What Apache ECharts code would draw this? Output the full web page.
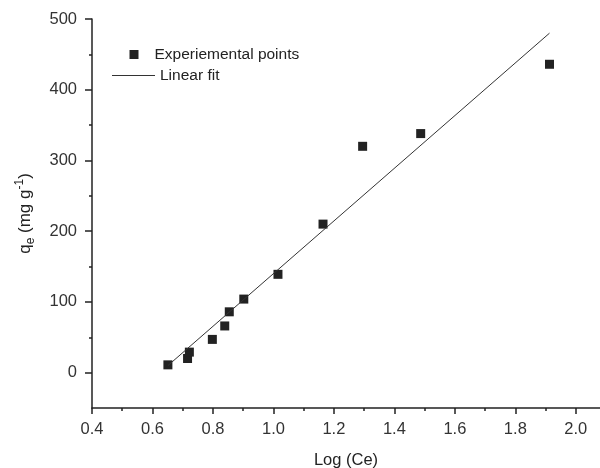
<!DOCTYPE html>
<html><head><meta charset="utf-8">
<script src="https://cdn.jsdelivr.net/npm/echarts@6/dist/echarts.min.js"></script>
<style>html,body{margin:0;padding:0;background:#fff}#c{width:600px;height:468px}</style>
</head><body><div id="c"></div>
<script>
const logCe = [0.651, 0.716, 0.722, 0.798, 0.839, 0.854, 0.902, 1.015, 1.164, 1.295, 1.487, 1.913];
const qe = [11, 20, 29, 47, 66, 86, 104, 139, 210, 320, 338, 436];
const fitX = [0.651, 1.913];
const fitY = [10, 480];
const xTicks = [0.4, 0.6, 0.8, 1.0, 1.2, 1.4, 1.6, 1.8, 2.0];
const xMinor = [0.5, 0.7, 0.9, 1.1, 1.3, 1.5, 1.7, 1.9];
const yTicks = [0, 100, 200, 300, 400, 500];
const yMinor = [50, 150, 250, 350, 450];

const font = 'Liberation Sans, Arial, sans-serif';
const axColor = '#222';
const fs = 16.5;
const chart = echarts.init(document.getElementById('c'));
const xBase = {type:'value', min:0.4, max:2.08, position:'bottom'};
const yBase = {type:'value', min:-50, max:500, position:'left'};
chart.setOption({
  animation:false,
  grid:{left:92, right:0, top:19, bottom:60, outerBoundsMode:'none'},
  xAxis:[
    Object.assign({}, xBase, {
      name:'Log (Ce)', nameLocation:'middle', nameGap:44,
      nameTextStyle:{fontFamily:font, fontSize:fs, color:'#222'},
      axisLine:{show:true, onZero:false, lineStyle:{color:axColor, width:1.5}},
      axisTick:{show:true, length:6, customValues:xTicks, lineStyle:{color:axColor, width:1.5}},
      axisLabel:{customValues:xTicks, margin:13, fontFamily:font, fontSize:fs, color:'#333', formatter:v=>v.toFixed(1)},
      splitLine:{show:false}
    }),
    Object.assign({}, xBase, {
      axisLine:{show:false, onZero:false},
      axisTick:{show:true, length:3, customValues:xMinor, lineStyle:{color:axColor, width:1.5}},
      axisLabel:{show:false}, splitLine:{show:false}
    })
  ],
  yAxis:[
    Object.assign({}, yBase, {
      name:'{m|q}{s|e}{m| (mg g}{p|-1}{m|)}', nameLocation:'middle', nameGap:56, nameRotate:90,
      nameTextStyle:{fontFamily:font, fontSize:17, color:'#222',
        rich:{
          m:{fontFamily:font, fontSize:17, color:'#222', lineHeight:22},
          s:{fontFamily:font, fontSize:12, color:'#222', lineHeight:22, padding:[11,0,0,0]},
          p:{fontFamily:font, fontSize:12, color:'#222', lineHeight:22, padding:[0,0,11,0]}
        }},
      axisLine:{show:true, onZero:false, lineStyle:{color:axColor, width:1.5}},
      axisTick:{show:true, length:7, customValues:yTicks, lineStyle:{color:axColor, width:1.5}},
      axisLabel:{customValues:yTicks, margin:15, fontFamily:font, fontSize:fs, color:'#333'},
      splitLine:{show:false}
    }),
    Object.assign({}, yBase, {
      axisLine:{show:false, onZero:false},
      axisTick:{show:true, length:3, customValues:yMinor, lineStyle:{color:axColor, width:1.5}},
      axisLabel:{show:false}, splitLine:{show:false}
    })
  ],
  legend:[
    {data:['Experiemental points'], orient:'vertical', left:129.5, top:46.5, padding:0, itemWidth:9, itemHeight:9,
     icon:'rect', itemStyle:{color:'#222', opacity:1}, textStyle:{fontFamily:font, fontSize:15.5, color:'#222', padding:[0,0,0,11]}},
    {data:[{name:'Linear fit', icon:'rect', itemStyle:{color:'#333'}}], orient:'vertical', left:112, top:67.5, padding:0, itemWidth:43, itemHeight:1,
     textStyle:{fontFamily:font, fontSize:15.5, color:'#222', padding:[0,0,0,0]}}
  ],
  series:[
    {name:'Linear fit', type:'line', symbol:'none', xAxisIndex:0, yAxisIndex:0,
     data:fitX.map((x,i)=>[x, fitY[i]]), lineStyle:{color:'#333', width:1}, itemStyle:{color:'#333'}},
    {name:'Experiemental points', type:'scatter', symbol:'rect', symbolSize:9, xAxisIndex:0, yAxisIndex:0,
     data:logCe.map((x,i)=>[x, qe[i]]), itemStyle:{color:'#222', opacity:1}}
  ]
});
</script></body></html>
